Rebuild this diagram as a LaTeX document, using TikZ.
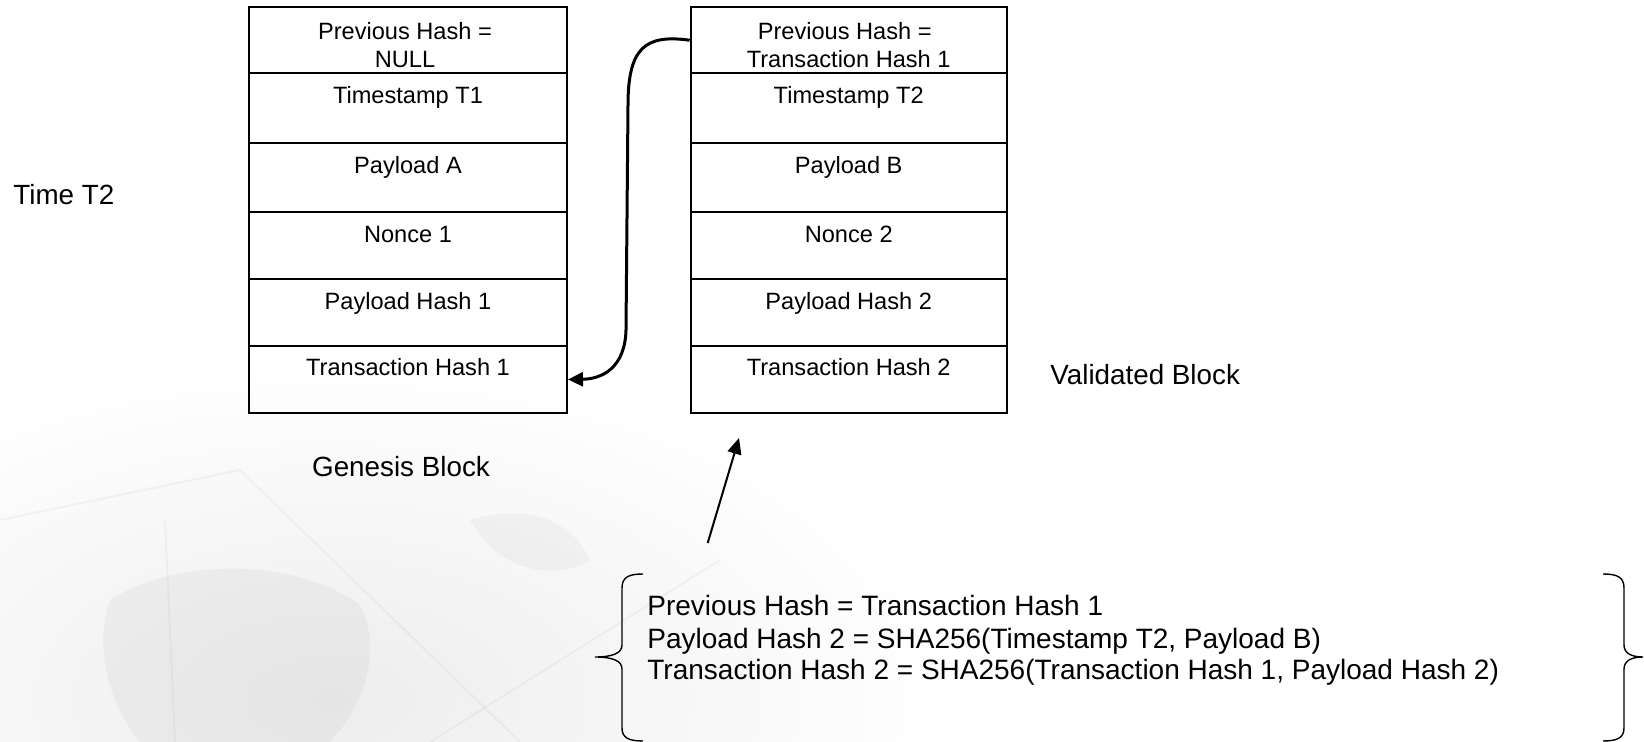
\documentclass[tikz,border=0pt]{standalone}
\usepackage{fontspec}
\setmainfont{Liberation Sans}
\usetikzlibrary{arrows.meta,calc,fit,fadings}

\tikzfading[name=softspot, inner color=transparent!0, outer color=transparent!100]

\begin{document}
\begin{tikzpicture}[x=0.5pt,y=-0.5pt,
  cell/.style={draw, line width=1pt, inner sep=0pt},
  celltxt/.style={anchor=base, inner sep=0pt, font=\fontsize{11.8}{14}\selectfont},
  lbl/.style={inner sep=0pt, font=\fontsize{13.9}{16}\selectfont},
  notetxt/.style={inner sep=0pt, anchor=base west, font=\fontsize{14}{16}\selectfont},
  link/.style={line width=1.5pt, -{Triangle[length=7.5pt,width=7pt]}},
  pointer/.style={line width=1pt, -{Triangle[length=8pt,width=7pt]}},
  brace/.style={line width=0.7pt},
  tile/.style={line width=1pt, draw=black, draw opacity=0.035},
]
% canvas
\useasboundingbox (0,0) rectangle (1644,742);

% faint backdrop in the lower left
\fill[black, opacity=0.07, path fading=softspot] (330,700) ellipse (620 and 340);
\fill[black, opacity=0.035] (110,600) .. controls (180,555) and (300,560) .. (360,605)
  .. controls (385,655) and (360,710) .. (330,742) -- (140,742)
  .. controls (105,700) and (95,640) .. (110,600) -- cycle;
\fill[black, opacity=0.03] (470,520) .. controls (520,505) and (570,515) .. (590,560)
  .. controls (560,580) and (500,575) .. (470,520) -- cycle;
\draw[tile] (240,470) -- (520,742);
\draw[tile] (430,742) -- (720,560);
\draw[tile] (165,520) -- (175,742);
\draw[tile] (0,520) -- (240,470);

% genesis block
\node[cell, fit={(249,7) (567,73.5)}]      (g1) {};
\node[cell, fit={(249,73.5) (567,143.5)}]  (g2) {};
\node[cell, fit={(249,143.5) (567,212.5)}] (g3) {};
\node[cell, fit={(249,212.5) (567,279.5)}] (g4) {};
\node[cell, fit={(249,279.5) (567,346)}]   (g5) {};
\node[cell, fit={(249,346) (567,413)}]     (g6) {};

\node[celltxt] (g1a) at ($(g1.north)+(-3,33.5)$) {Previous Hash =};
\node[celltxt] (g1b) at ($(g1.north)+(-3,62)$)   {NULL};
\node[celltxt] (g2a) at ($(g2.north)+(0,31)$) {Timestamp T1};
\node[celltxt] (g3a) at ($(g3.north)+(0,31)$) {Payload A};
\node[celltxt] (g4a) at ($(g4.north)+(0,31)$) {Nonce 1};
\node[celltxt] (g5a) at ($(g5.north)+(0,31)$) {Payload Hash 1};
\node[celltxt] (g6a) at ($(g6.north)+(0,31)$) {Transaction Hash 1};

% validated block
\node[cell, fit={(690.7,7) (1006.7,73.5)}]      (v1) {};
\node[cell, fit={(690.7,73.5) (1006.7,143.5)}]  (v2) {};
\node[cell, fit={(690.7,143.5) (1006.7,212.5)}] (v3) {};
\node[cell, fit={(690.7,212.5) (1006.7,279.5)}] (v4) {};
\node[cell, fit={(690.7,279.5) (1006.7,346)}]   (v5) {};
\node[cell, fit={(690.7,346) (1006.7,413)}]     (v6) {};

\node[celltxt] (v1a) at ($(v1.north)+(-4,33.5)$) {Previous Hash =};
\node[celltxt] (v1b) at ($(v1.north)+(0,62)$)    {Transaction Hash 1};
\node[celltxt] (v2a) at ($(v2.north)+(0,31)$) {Timestamp T2};
\node[celltxt] (v3a) at ($(v3.north)+(0,31)$) {Payload B};
\node[celltxt] (v4a) at ($(v4.north)+(0,31)$) {Nonce 2};
\node[celltxt] (v5a) at ($(v5.north)+(0,31)$) {Payload Hash 2};
\node[celltxt] (v6a) at ($(v6.north)+(0,31)$) {Transaction Hash 2};

% labels
\node[lbl, anchor=base west] (time)  at (13,205)  {Time T2};
\node[lbl, anchor=base]      (glbl)  at (401,477) {Genesis Block};
\node[lbl, anchor=base west] (vlbl)  at (1050,385) {Validated Block};

% hash link from the new block back to the genesis block
\draw[link] (v1.west) .. controls (645,34) and (628,48) .. (628,105)
  -- (626,330) .. controls (625,368) and (602,379) .. (g6.east);

% computation notes
\node[notetxt] (e1) at (647,616) {Previous Hash = Transaction Hash 1};
\node[notetxt] (e2) at (647,648) {Payload Hash 2 = SHA256(Timestamp T2, Payload B)};
\node[notetxt] (e3) at (647,680) {Transaction Hash 2 = SHA256(Transaction Hash 1, Payload Hash 2)};

\draw[brace] (643,574) .. controls (629,574) and (622,577) .. (622,588)
  -- (622,645) .. controls (622,653) and (613,657) .. (595,657)
  .. controls (613,657) and (622,661) .. (622,669)
  -- (622,728) .. controls (622,738) and (629,741) .. (643,741);
\draw[brace] (1603,574) .. controls (1617,574) and (1624,577) .. (1624,588)
  -- (1624,645) .. controls (1624,653) and (1631,657) .. (1643,657)
  .. controls (1631,657) and (1624,661) .. (1624,669)
  -- (1624,728) .. controls (1624,738) and (1617,741) .. (1603,741);

% pointer from the notes up to the validated block
\coordinate (ptail) at (707.7,543);
\coordinate (phead) at (739,438);
\draw[pointer] (ptail) -- (phead);
\end{tikzpicture}
\end{document}
